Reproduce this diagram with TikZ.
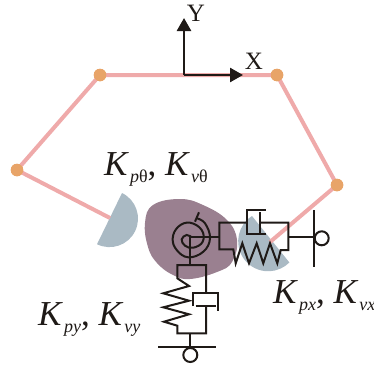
\documentclass[tikz,border=0pt]{standalone}
\usepackage{fontspec}
\setmainfont{Liberation Serif}
\usetikzlibrary{arrows.meta}
\definecolor{ink}{RGB}{31,26,23}
\definecolor{linkc}{RGB}{239,170,170}
\definecolor{jointc}{RGB}{232,164,104}
\definecolor{padc}{RGB}{170,186,196}
\definecolor{bodyc}{RGB}{154,128,144}
\tikzset{
  joint/.style={circle,fill=jointc,inner sep=0pt,minimum size=12.5pt},
  linkbar/.style={draw=linkc,line width=4pt},
  axisarr/.style={-{Triangle[length=13pt,width=14pt]},draw=ink,fill=ink,line width=2.6pt},
  mech/.style={draw=ink,line width=2pt},
  hinge/.style={circle,draw=ink,line width=2pt,fill=white,inner sep=0pt,minimum size=14pt},
  axlabel/.style={font=\fontsize{25}{25}\selectfont,text=ink,inner sep=0pt},
  gainlabel/.style={anchor=base west,inner sep=0pt,text=ink,font=\fontsize{35}{35}\selectfont},
}
\newcommand{\gain}[1]{\textit{K}\hspace{1pt}\raisebox{-7pt}{\fontsize{18}{18}\selectfont\textit{#1}}}
\begin{document}
\begin{tikzpicture}[x=1pt,y=-1pt]
\useasboundingbox (0,0) rectangle (374,367);
% joints
\node[joint] (J1) at (17,170) {};
\node[joint] (J2) at (100,75) {};
\node[joint] (J3) at (277,75) {};
\node[joint] (J4) at (337,185) {};
\coordinate (O) at (184,75);
\coordinate (E1) at (110,218);
\coordinate (E2) at (270,242);
% body and pads
\draw[fill=bodyc,draw=none] plot[smooth cycle,tension=0.7] coordinates {(145,223) (153,205) (180,199)
  (203,205) (227,220) (237,240) (232,262) (217,272) (190,279) (173,275) (157,263) (148,247)};
\fill[padc] (122,193) arc[start angle=64,end angle=-116,radius=28.5pt] -- cycle;
\fill[padc] (252,216) arc[start angle=122.6,end angle=315,radius=30pt] -- cycle;
% links
\draw[linkbar] (E1) -- (J1.center) -- (J2.center) -- (J3.center) -- (J4.center) -- (E2);
\node[joint] at (J1) {};
\node[joint] at (J2) {};
\node[joint] at (J3) {};
\node[joint] at (J4) {};
% axes
\draw[axisarr] (O) -- (184,18);
\draw[axisarr] (O) -- (243,75);
\node[axlabel] (Y) at (196,13) {Y};
\node[axlabel] (X) at (254,61) {X};
% spiral
\draw[mech] plot[smooth,tension=0.7] coordinates {(196.7,218.3) (205,223.3) (210,238.3)
  (203.3,251.7) (188.3,257.3) (176.7,250) (172.7,238.3) (178.3,226.7) (190,222.7) (201.7,230)
  (202.7,241.7) (193.3,247.7) (185,245.7) (181.7,239.3) (186.7,235) (191.7,237.3)};
\draw[mech] (195,221.7) -- (199,212.3);
% horizontal spring and damper
\draw[mech] (190,237.3) -- (219.3,237.3);
\draw[mech] (247.3,222.7) -- (219.3,222.7) -- (219.3,249.3) -- (233.3,249.3) -- (235.7,263.3) -- (242.3,243.3)
  -- (249,263.3) -- (256.7,243.3) -- (263.3,263.3) -- (270,243.3) -- (277.3,263.3) -- (280.7,250) -- (288.3,250)
  -- (288.3,222.7) -- (260,222.7);
\draw[mech] (265.7,210) -- (247.3,210) -- (247.3,234) -- (265.7,234);
\draw[mech] (260,212.3) -- (260,232.7);
\draw[mech] (288.3,237.3) -- (314,237.3);
\draw[mech] (314,210) -- (314,266.7);
\node[hinge] (HX) at (321.7,238.3) {};
% vertical spring and damper
\draw[mech] (190,237.3) -- (190,265);
\draw[mech] (206,293.3) -- (206,265) -- (177.3,265) -- (177.3,278.3) -- (189,286) -- (163.3,293.3) -- (189,300.7)
  -- (163.3,307.3) -- (189,314.3) -- (164,321.7) -- (177.3,325.7) -- (177.3,333.3) -- (206,333.3) -- (206,305.7);
\draw[mech] (193.3,306) -- (193.3,293.3) -- (218.3,293.3) -- (218.3,311);
\draw[mech] (195.7,305.7) -- (216,305.7);
\draw[mech] (190,333.3) -- (190,346.7);
\draw[mech] (158.3,346.7) -- (216,346.7);
\node[hinge] (HY) at (190.3,355) {};
% gains
\node[gainlabel] (Kt) at (104,175) {\gain{p{\upshape θ}}, \gain{v{\upshape θ}}};
\node[gainlabel] (Ky) at (38,325) {\gain{py}, \gain{vy}};
\node[gainlabel] (Kx) at (273,303) {\gain{px}, \gain{vx}};
\end{tikzpicture}
\end{document}
